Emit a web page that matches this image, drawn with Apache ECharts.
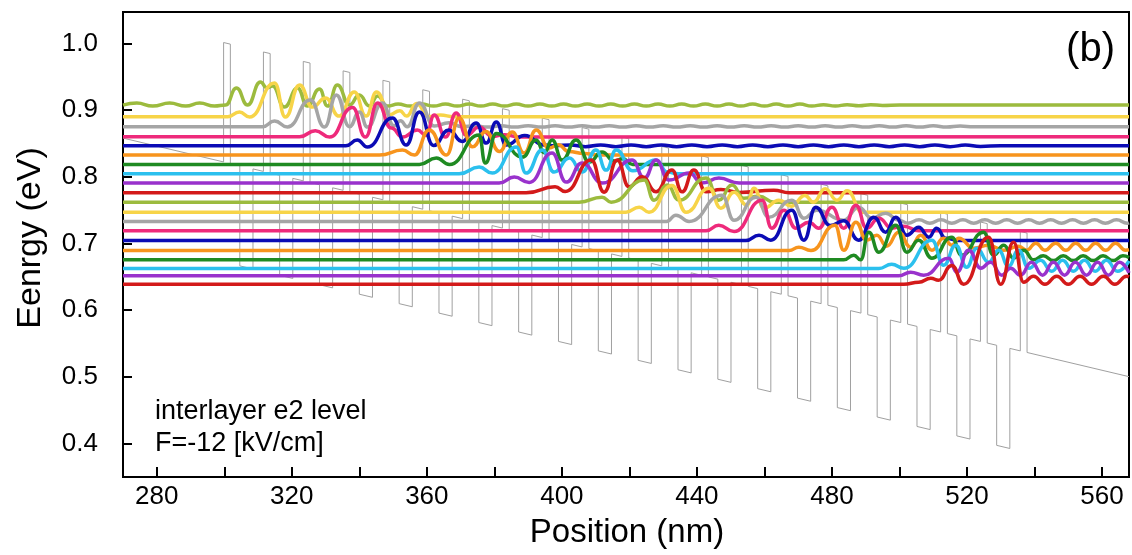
<!DOCTYPE html>
<html><head><meta charset="utf-8">
<script src="https://cdn.jsdelivr.net/npm/echarts@6/dist/echarts.min.js"></script>
<style>html,body{margin:0;padding:0;background:#fff}#c{width:1132px;height:555px}</style>
</head><body><div id="c"></div>
<script>
// ---- axis ticks / labels ----
const xTickValues = [280,300,320,340,360,380,400,420,440,460,480,500,520,540,560];
const xLabelValues = [280,320,360,400,440,480,520,560];
const yTickValues = [0.4,0.5,0.6,0.7,0.8,0.9,1.0];

// ---- colour cycle of the levels (top to bottom) ----
const levelColors = ['#9cbb3e','#f7d448','#a5a5a5','#ee2a7b','#0b0bb5','#f7941d','#1f8a22','#2bc0ee','#9932cc','#d31a1a'];

// ---- potential profile ----
const baselineEnds = [[270,0.858],[568,0.5004]];
const barrierStarts = [299.8,311.6,323.4,335.2,347.0,358.8,370.6,382.4,394.2,406.0,417.8,429.6,441.4,453.2,465.0,476.8,488.6,500.4,512.2,524.0,535.8];
const barrierWidth = 2.0, barrierHeight = 0.179;
const wellStarts = [304.6,316.4,328.2,340.0,351.8,363.6,375.4,387.2,399.0,410.8,422.6,434.4,446.2,458.0,469.8,481.6,493.4,505.2,517.0,528.8];
const wellWidth = 3.9, wellDepth = 0.15;

// ---- wave functions (position nm, energy eV) ----
const wave0 = [[270,0.9075],[274.1,0.9105],[278.8,0.906],[283.8,0.9105],[288.6,0.906],[292.7,0.9105],[297.1,0.906],[300.4,0.9075],[303.6,0.933],[306.9,0.9075],[310.7,0.942],[312.6,0.9335],[314.3,0.936],[317.8,0.9045],[321.7,0.933],[324.6,0.906],[328.2,0.9315],[330.6,0.906],[333.5,0.9375],[337.1,0.9075],[340.0,0.9225],[343.0,0.906],[345.4,0.921],[348.3,0.906],
 [351.5,0.909],[355,0.906],[358.5,0.909],[362,0.906],[365.5,0.909],[369,0.906],[372.5,0.909],[376,0.906],[379.5,0.909],[383,0.906],[386.5,0.909],[390,0.906],[393.5,0.909],[397,0.906],[400.5,0.909],[404,0.906],[407.5,0.909],[411,0.906],[414.5,0.909],[418,0.906],[421.5,0.909],[425,0.906],[428.5,0.909],[432,0.906],[435.5,0.909],[439,0.906],[442.5,0.909],[446,0.906],[449.5,0.909],[453,0.906],[456.5,0.909],[460,0.906],[463.5,0.909],[467,0.906],[470.5,0.909],[474,0.906],[477.5,0.908],[481,0.906],[484.5,0.908],[488,0.9065],[491.5,0.908],[495,0.907],[500,0.9075],[568,0.9075]];
const wave1 = [[270,0.890],[301.0,0.890],[304.5,0.897],[307.5,0.8895],[314.9,0.9405],[318.1,0.8895],[322.3,0.9375],[326.1,0.9045],[330,0.918],[334,0.891],[338.5,0.927],[342,0.891],[345.1,0.927],[349,0.893],[352,0.899],[354,0.891],[357,0.91],[360.5,0.890],[364,0.8925],[368,0.890],[568,0.890]];
const wave2 = [[270,0.875],[311.3,0.875],[314.9,0.8835],[318.7,0.8745],[325.5,0.915],[329.7,0.8745],[333.2,0.9225],[337.1,0.875],[340.0,0.897],[342.4,0.8745],[346.8,0.9105],[350.3,0.8765],[352.2,0.884],[354.2,0.875],[357.8,0.9105],[362.2,0.876],[366.5,0.881],[370.5,0.875],
 [374,0.8765],[378,0.8745],[382,0.8765],[386,0.8745],[390,0.8765],[394,0.8745],[398,0.8765],[402,0.8745],[406,0.8765],[410,0.8745],[414,0.8765],[418,0.8745],[422,0.8765],[426,0.8745],[430,0.8765],[434,0.8745],[438,0.8765],[442,0.8745],[446,0.8765],[450,0.8745],[454,0.8765],[458,0.8745],[462,0.8765],[466,0.8745],[470,0.8765],[474,0.8745],[478,0.8765],[482,0.8745],[486,0.8765],[490,0.8745],[494,0.8765],[498,0.8745],[502,0.8765],[506,0.8745],[510,0.8765],[514,0.8745],[518,0.876],[522,0.875],[568,0.875]];
const wave3 = [[270,0.860],[322.3,0.860],[327.0,0.869],[331.2,0.8595],[338.0,0.904],[341.8,0.8595],[345.4,0.9105],[349.5,0.873],[352.8,0.8595],[357.2,0.870],[359.8,0.862],[362.2,0.8925],[365.5,0.8595],[368.7,0.8955],[371.7,0.862],[375.5,0.8745],[379.4,0.8605],[382.9,0.863],[387.4,0.8595],[568,0.860]];
const wave4 = [[270,0.8465],[336,0.8465],[339.4,0.855],[342.4,0.8445],[349.8,0.888],[353.9,0.8475],[357.8,0.897],[362,0.847],[366.5,0.870],[370.5,0.853],[374.6,0.8805],[377.6,0.8505],[380.6,0.882],[383.5,0.8475],[389,0.862],[394.8,0.8475],[398,0.8465],
 [402.5,0.8478],[407,0.8452],[411.5,0.8478],[416,0.8452],[420.5,0.8478],[425,0.8452],[429.5,0.8478],[434,0.8452],[438.5,0.8478],[443,0.8452],[447.5,0.8478],[452,0.8452],[456.5,0.8478],[461,0.8452],[465.5,0.8478],[470,0.8452],[474.5,0.8478],[479,0.8452],[483.5,0.8478],[488,0.8452],[492.5,0.8478],[497,0.8452],[501.5,0.8478],[506,0.8452],[510.5,0.8478],[515,0.8452],[519.5,0.8475],[524,0.8455],[530,0.8465],[568,0.8465]];
const wave5 = [[270,0.8325],[346,0.8325],[352.8,0.840],[356.3,0.8325],[360.7,0.870],[365.8,0.8325],[369.6,0.888],[373.5,0.845],[377.5,0.868],[381.5,0.838],[385.3,0.867],[388.8,0.8355],[392.4,0.870],[396.2,0.843],[399,0.848],[402,0.838],[406.6,0.835],[411,0.8325],[568,0.8325]];
const wave6 = [[270,0.8185],[357.8,0.8185],[362.8,0.828],[366.7,0.8185],[375.5,0.8625],[377.3,0.8205],[380.6,0.865],[388.3,0.8295],[392.4,0.855],[394.8,0.836],[397.1,0.855],[400.1,0.825],[404.2,0.855],[408.1,0.822],[411.9,0.837],[415.5,0.8235],[418,0.827],[421,0.8185],[568,0.8185]];
const wave7 = [[270,0.8045],[369.6,0.8045],[375.5,0.8145],[379.4,0.8055],[386.5,0.8445],[389.4,0.8055],[394.2,0.840],[397.7,0.807],[402.2,0.828],[406.0,0.807],[410.1,0.840],[413.1,0.810],[416.1,0.840],[421,0.809],[427.9,0.825],[431.2,0.807],[434.7,0.8045],[568,0.8045]];
const wave8 = [[270,0.7905],[381.4,0.7905],[385.9,0.7995],[390.3,0.7915],[397.1,0.8355],[401.3,0.792],[406.0,0.8205],[412,0.7905],[420.8,0.825],[424.4,0.798],[427.9,0.825],[431.7,0.795],[437.7,0.8055],[441.5,0.7905],[446.5,0.798],[452.5,0.7905],[568,0.7905]];
const wave9 = [[270,0.776],[389.4,0.776],[398,0.785],[401,0.778],[408.7,0.825],[412.5,0.777],[416.4,0.825],[419.9,0.785],[423.8,0.800],[427.9,0.7775],[432.6,0.810],[435.6,0.7775],[439.1,0.810],[442.7,0.7775],[447.1,0.781],[452.5,0.7765],[462.8,0.780],[467.3,0.776],[568,0.776]];
const wave10 = [[270,0.762],[405.1,0.762],[411.9,0.7695],[414.6,0.762],[424.4,0.795],[427.3,0.765],[431.2,0.7875],[434.7,0.765],[442.7,0.798],[446.5,0.765],[450.4,0.7875],[453.9,0.768],[458.4,0.771],[462.8,0.762],[568,0.762]];
const wave11 = [[270,0.747],[419,0.747],[422.9,0.7545],[425.8,0.747],[432.6,0.787],[436.8,0.747],[443.6,0.783],[447.1,0.753],[451.0,0.777],[454.8,0.7575],[456.9,0.783],[459.9,0.753],[464.3,0.765],[468,0.756],[472,0.772],[474.5,0.762],[478,0.782],[481.5,0.765],[484.5,0.779],[489,0.747],[568,0.747]];
const wave12 = [[270,0.733],[431.0,0.733],[433.8,0.7425],[437.7,0.733],[447.4,0.7725],[451.0,0.735],[457.5,0.7695],[461.3,0.7395],[468.1,0.765],[471.7,0.738],[475.5,0.750],[483.5,0.735],[487.9,0.7545],[491.8,0.738],[495.9,0.7455],[499.8,0.735],
 [502.5,0.7305],[505.8,0.7355],[509,0.7305],[512.3,0.7355],[515.5,0.7305],[518.8,0.7355],[522,0.7305],[525.3,0.7355],[528.5,0.7305],[531.8,0.7355],[535,0.7305],[538.3,0.7355],[541.5,0.7305],[544.8,0.7355],[548,0.7305],[551.3,0.7355],[554.5,0.7305],[557.8,0.7355],[561,0.7305],[564.3,0.7355],[567.5,0.7305],[568,0.731]];
const wave13 = [[270,0.719],[442.7,0.719],[446.5,0.7275],[451.0,0.718],[459.3,0.765],[462.2,0.723],[465.8,0.750],[469.3,0.723],[473.2,0.732],[476.1,0.723],[480.0,0.7545],[483.5,0.723],[487.1,0.7575],[490.3,0.723],[493.9,0.738],[497.7,0.723],[501.3,0.726],[505.7,0.719],[568,0.719]];
const wave14 = [[270,0.7045],[454.5,0.7045],[458.4,0.7125],[461.9,0.705],[468.1,0.750],[471.7,0.705],[475.2,0.7545],[479.5,0.727],[483.5,0.734],[487.9,0.705],[492.4,0.7395],[495.9,0.717],[498.9,0.7395],[502.2,0.7125],[505.7,0.7245],[508.7,0.7095],[511.0,0.723],[513.7,0.708],[517.6,0.7045],[568,0.7045]];
const wave15 = [[270,0.6895],[467.3,0.6895],[470.2,0.6945],[473.8,0.6895],[480.9,0.7275],[483.5,0.690],[487.1,0.732],[490.3,0.705],[493.3,0.7125],[496.2,0.696],[499.8,0.717],[503.3,0.6945],[506.3,0.7125],[509.6,0.690],[513.1,0.708],[515.5,0.6975],[517.6,0.708],[522.0,0.693],[526.4,0.6975],[530.9,0.690],[535.3,0.696],[537.7,0.690],[540.4,0.7005],[543.1,0.690],[546.3,0.7005],[549.3,0.690],[552.2,0.7005],[555.2,0.690],[558.1,0.7005],[561.1,0.690],[564.0,0.7005],[567.0,0.690],[568,0.6905]];
const wave16 = [[270,0.6755],[483.5,0.6755],[486.5,0.6825],[488.5,0.6755],[490.9,0.717],[493.9,0.687],[498.9,0.7275],[502.2,0.687],[505.7,0.705],[509.6,0.678],[515.5,0.7095],[518.4,0.6825],[524.9,0.717],[527.9,0.6825],[530.9,0.6975],[533.8,0.678],[536.8,0.690],[539.7,0.6755],[542.6,0.6815],[545.6,0.6745],[548.5,0.6815],[551.5,0.6745],[554.4,0.6815],[557.4,0.6745],[560.3,0.6815],[563.3,0.6745],[566.2,0.6815],[568,0.679]];
const wave17 = [[270,0.6625],[493.9,0.6625],[497.7,0.669],[501.3,0.663],[509.6,0.705],[513.1,0.6675],[516.7,0.6975],[519.9,0.6645],[522.9,0.693],[526.4,0.672],[529.4,0.690],[532.3,0.666],[535.3,0.690],[538.3,0.663],[541.8,0.675],[545.1,0.6585],[548.3,0.675],[551.5,0.6585],[554.8,0.675],[558.0,0.6585],[561.3,0.675],[564.6,0.6585],[568,0.674]];
const wave18 = [[270,0.6515],[499.8,0.6515],[503.3,0.657],[507.2,0.6525],[514.6,0.678],[517.0,0.657],[520.5,0.690],[524.1,0.663],[527.0,0.672],[530.3,0.6525],[532.9,0.663],[535.9,0.6525],[539.1,0.672],[542.4,0.6525],[545.6,0.672],[548.9,0.6525],[552.1,0.672],[555.4,0.6525],[558.7,0.672],[561.9,0.6525],[565.2,0.672],[568,0.656]];
const wave19 = [[270,0.639],[501.3,0.639],[505.7,0.642],[509.3,0.648],[511.6,0.645],[515.5,0.667],[519.0,0.639],[526.4,0.7095],[530.0,0.639],[533.8,0.702],[536.8,0.642],[539.7,0.651],[543.1,0.639],[546.6,0.651],[550.0,0.639],[553.5,0.651],[556.9,0.639],[560.4,0.651],[563.8,0.639],[567.3,0.651],[568,0.650]];

const waves = [wave0,wave1,wave2,wave3,wave4,wave5,wave6,wave7,wave8,wave9,wave10,wave11,wave12,wave13,wave14,wave15,wave16,wave17,wave18,wave19];

// ---- build the potential polyline from the read values ----
function baseAt(x){ const a=baselineEnds[0], b=baselineEnds[1]; return a[1] + (b[1]-a[1])*(x-a[0])/(b[0]-a[0]); }
const profile = [[baselineEnds[0][0], baselineEnds[0][1]]];
barrierStarts.forEach((b,k)=>{
  const e = b + barrierWidth;
  profile.push([b, baseAt(b)], [b, baseAt(b)+barrierHeight], [e, baseAt(e)+barrierHeight], [e, baseAt(e)]);
  if (k < wellStarts.length) {
    const s = wellStarts[k], t = s + wellWidth;
    profile.push([s, baseAt(s)], [s, baseAt(s)-wellDepth], [t, baseAt(t)-wellDepth], [t, baseAt(t)]);
  }
});
profile.push([baselineEnds[1][0], baselineEnds[1][1]]);

const FONT = 'Liberation Sans, Arial, sans-serif';
const series = [{
  type:'line', data: profile, showSymbol:false, silent:true, z:1,
  lineStyle:{color:'#a0a0a0', width:1}
}];
waves.forEach((w,i)=>{
  series.push({
    type:'line', data:w, showSymbol:false, silent:true, z:2,
    smooth:0.5, smoothMonotone:'x',
    lineStyle:{color:levelColors[i%levelColors.length], width:3.5}
  });
});

const chart = echarts.init(document.getElementById('c'), null, {renderer:'canvas'});
chart.setOption({
  animation:false,
  backgroundColor:'#fff',
  grid:{left:123, right:3, top:12, bottom:78, show:true, borderColor:'#000', borderWidth:2, backgroundColor:'transparent'},
  xAxis:{
    type:'value', min:270, max:568,
    axisLine:{show:true, lineStyle:{color:'#000', width:2}},
    axisTick:{show:true, inside:true, length:10, customValues:xTickValues, lineStyle:{color:'#000', width:2}},
    axisLabel:{customValues:xLabelValues, color:'#000', fontSize:26, fontFamily:FONT, margin:7},
    splitLine:{show:false}
  },
  yAxis:{
    type:'value', min:0.35, max:1.047,
    axisLine:{show:true, lineStyle:{color:'#000', width:2}},
    axisTick:{show:true, inside:true, length:9, customValues:yTickValues, lineStyle:{color:'#000', width:2}},
    axisLabel:{customValues:yTickValues, color:'#000', fontSize:26, fontFamily:FONT, margin:25, formatter:v=>v.toFixed(1)},
    splitLine:{show:false}
  },
  graphic:[
    {type:'text', x:31, y:238, rotation:Math.PI/2, style:{text:'Eenrgy (eV)', fontSize:34, fontFamily:FONT, fill:'#000', align:'center', verticalAlign:'middle'}},
    {type:'text', x:627, y:533, style:{text:'Position (nm)', fontSize:33, fontFamily:FONT, fill:'#000', align:'center', verticalAlign:'middle'}},
    {type:'text', x:1115, y:50, style:{text:'(b)', fontSize:40, fontFamily:FONT, fill:'#000', align:'right', verticalAlign:'middle'}},
    {type:'text', x:155, y:412, style:{text:'interlayer e2 level', fontSize:27, fontFamily:FONT, fill:'#000', align:'left', verticalAlign:'middle'}},
    {type:'text', x:155, y:444, style:{text:'F=-12 [kV/cm]', fontSize:27, fontFamily:FONT, fill:'#000', align:'left', verticalAlign:'middle'}}
  ],
  series:series
});
</script>
</body></html>
